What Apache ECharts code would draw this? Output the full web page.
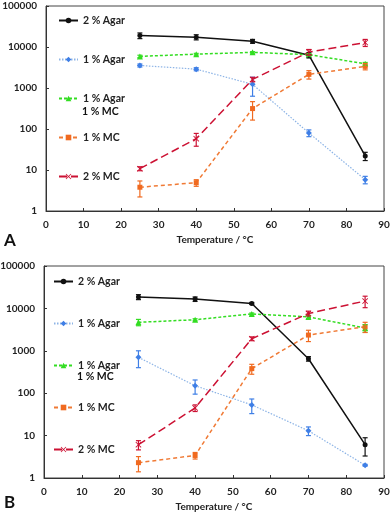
<!DOCTYPE html>
<html lang="en">
<head>
<meta charset="UTF-8">
<title>G' vs temperature</title>
<script src="https://cdn.jsdelivr.net/npm/echarts@6/dist/echarts.min.js"></script>
<style>
  html, body { margin: 0; padding: 0; background: #fff; }
</style>
</head>
<body>
<div id="main" style="width: 391px; height: 515px;"></div>
<script type="text/javascript">
// temperatures (°C)
var temps = [25, 40, 55, 70, 85];
var names = ['2 % Agar', '1 % Agar', '1 % Agar 1 % MC', '1 % MC', '2 % MC'];

// panel A: G' (Pa) and error (±)
var aAgar2 = [19000, 17400, 13800, 6300, 22];
var aAgar2Err = [3000, 2500, 1500, 900, 5];
var aAgar1 = [3550, 2880, 1230, 80, 5.8];
var aAgar1Err = [300, 250, 600, 15, 1.2];
var aMix = [5900, 6700, 7400, 6500, 3900];
var aMixErr = [400, 300, 300, 400, 300];
var aMc1 = [3.8, 4.9, 315, 2150, 3370];
var aMc1Err = [1.6, 0.9, 150, 500, 600];
var aMc2 = [10.8, 58, 1620, 7500, 12800];
var aMc2Err = [1.2, 20, 200, 1200, 2500];

// panel B
var bAgar2 = [18600, 16600, 13100, 650, 6.1];
var bAgar2Err = [2500, 2000, 700, 80, 2.8];
var bAgar1 = [700, 150, 53, 13, 2.0];
var bAgar1Err = [300, 55, 20, 3, 0.1];
var bMix = [4700, 5400, 7400, 6300, 3450];
var bMixErr = [800, 300, 400, 500, 700];
var bMc1 = [2.3, 3.4, 380, 2350, 3700];
var bMc1Err = [0.9, 0.6, 100, 700, 1000];
var bMc2 = [6.1, 45, 1930, 7600, 14900];
var bMc2Err = [1.5, 8, 200, 1000, 4500];

var myChart = echarts.init(document.getElementById('main'));

var font = 'Lato, "Noto Sans", sans-serif';
var xShape = 'path://M0,1L1,0L5,4L9,0L10,1L6,5L10,9L9,10L5,6L1,10L0,9L4,5Z';

var styles = [
    {line: '#111', mark: '#111', type: 'solid', width: 1.5, symbol: 'circle', size: 5},
    {line: '#8db4e6', mark: '#3f7fe6', type: [1.5, 1.5], width: 1.2, symbol: 'diamond', size: 6},
    {line: '#33dd22', mark: '#33dd22', type: [3, 2], width: 1.5, symbol: 'triangle', size: 6},
    {line: '#f07a35', mark: '#f06a20', type: [4, 3], width: 1.5, symbol: 'rect', size: 5},
    {line: '#cc1133', mark: '#cc1133', type: [8, 4], width: 1.5, symbol: xShape, size: 6}
];

var panels = [
    {vals: [aAgar2, aAgar1, aMix, aMc1, aMc2], errs: [aAgar2Err, aAgar1Err, aMixErr, aMc1Err, aMc2Err]},
    {vals: [bAgar2, bAgar1, bMix, bMc1, bMc2], errs: [bAgar2Err, bAgar1Err, bMixErr, bMc1Err, bMc2Err]}
];

// error bars: vertical line with small caps
function errorBar(color) {
    return function (params, api) {
        var x = api.value(0);
        var top = api.coord([x, api.value(2)]);
        var bot = api.coord([x, api.value(1)]);
        var w = 2.5;
        var st = {stroke: color, lineWidth: 1.2};
        return {
            type: 'group',
            children: [
                {type: 'line', shape: {x1: top[0], y1: top[1], x2: bot[0], y2: bot[1]}, style: st},
                {type: 'line', shape: {x1: top[0] - w, y1: top[1], x2: top[0] + w, y2: top[1]}, style: st},
                {type: 'line', shape: {x1: bot[0] - w, y1: bot[1], x2: bot[0] + w, y2: bot[1]}, style: st}
            ]
        };
    };
}

var series = [];
panels.forEach(function (p, pi) {
    p.vals.forEach(function (vals, si) {
        var s = styles[si];
        series.push({
            name: names[si],
            type: 'line',
            xAxisIndex: pi,
            yAxisIndex: pi,
            data: temps.map(function (t, i) { return [t, vals[i]]; }),
            symbol: s.symbol,
            symbolSize: s.size,
            lineStyle: {color: s.line, type: s.type, width: s.width},
            itemStyle: {color: s.mark},
            animation: false,
            z: 3
        });
        series.push({
            type: 'custom',
            xAxisIndex: pi,
            yAxisIndex: pi,
            renderItem: errorBar(s.mark),
            data: temps.map(function (t, i) {
                var e = p.errs[si][i];
                return [t, Math.max(vals[i] - e, vals[i] * 0.2), vals[i] + e];
            }),
            silent: true,
            animation: false,
            z: 4
        });
    });
});

function xAxis(gi, gap) {
    return {
        type: 'value', gridIndex: gi, min: 0, max: 90, interval: 10,
        name: 'Temperature / °C', nameLocation: 'middle', nameGap: gap,
        nameTextStyle: {fontFamily: font, fontWeight: 'bold', fontSize: 10, color: '#222'},
        axisLine: {lineStyle: {color: '#333'}},
        axisTick: {show: true, inside: true, length: 3, lineStyle: {color: '#333'}},
        axisLabel: {fontFamily: font, fontWeight: 'bold', fontSize: 10, color: '#222', margin: 9},
        splitLine: {show: false}
    };
}

function yAxis(gi) {
    return {
        type: 'log', logBase: 10, gridIndex: gi, min: 1, max: 100000,
        name: "G' / Pa", nameLocation: 'middle', nameGap: 32, nameRotate: 90,
        nameTextStyle: {fontFamily: font, fontWeight: 'bold', fontSize: 10, color: '#222'},
        axisLine: {show: true, lineStyle: {color: '#333'}},
        axisTick: {show: true, inside: true, length: 3, lineStyle: {color: '#333'}},
        minorTick: {show: false},
        axisLabel: {
            fontFamily: font, fontWeight: 'bold', fontSize: 10, color: '#222', margin: 9,
            formatter: function (v) { return String(Math.round(v)); }
        },
        splitLine: {show: false}
    };
}

function legend(left, top, gap) {
    return {
        orient: 'vertical', left: left, top: top, padding: 0,
        itemWidth: 19, itemHeight: 7, itemGap: gap,
        data: names,
        formatter: function (n) { return n === names[2] ? '1 % Agar' : n; },
        textStyle: {fontFamily: font, fontWeight: 'bold', fontSize: 10.5, color: '#222'}
    };
}

function label(txt, left, top, size) {
    return {type: 'text', left: left, top: top,
        style: {text: txt, fontFamily: font, fontWeight: 'bold', fontSize: size, fill: '#111'}};
}

var option = {
    backgroundColor: '#fff',
    animation: false,
    grid: [
        {left: 46, right: 7, top: 6, height: 205, show: true, borderColor: '#444', borderWidth: 1, outerBoundsMode: 'none'},
        {left: 44, right: 7, top: 266, height: 212, show: true, borderColor: '#444', borderWidth: 1, outerBoundsMode: 'none'}
    ],
    legend: [legend(58, 15, 28), legend(53, 276, 31)],
    graphic: [
        label('1 % MC', 82, 106, 10.5),
        label('1 % MC', 77, 371, 10.5),
        label('A', 4, 232, 17),
        label('B', 4, 494, 17)
    ],
    xAxis: [xAxis(0, 24), xAxis(1, 24)],
    yAxis: [yAxis(0), yAxis(1)],
    series: series
};

myChart.setOption(option);
</script>
</body>
</html>
